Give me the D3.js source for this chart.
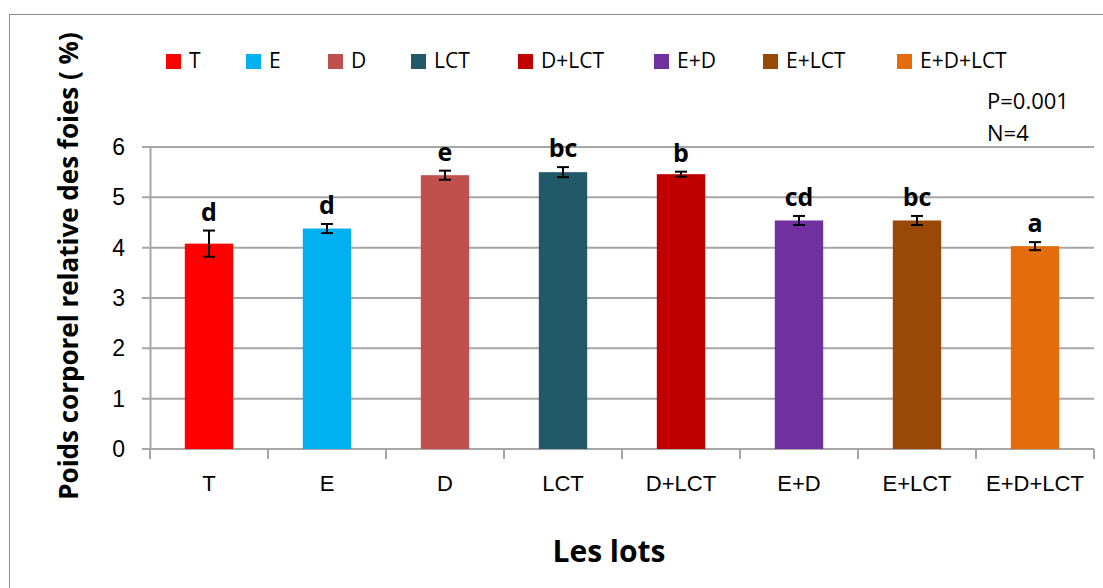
<!DOCTYPE html>
<html>
<head>
<meta charset="utf-8">
<script src="https://cdn.jsdelivr.net/npm/d3@7"></script>
<style>
	body { margin: 0; background: #fff; }
	svg { font-family: "Open Sans", "Noto Sans", sans-serif; }
</style>
</head>
<body>
<div id="chart"></div>
<script>
// Data
const lots = ['T', 'E', 'D', 'LCT', 'D+LCT', 'E+D', 'E+LCT', 'E+D+LCT'];
const moyennes = [4.08, 4.38, 5.44, 5.50, 5.46, 4.54, 4.54, 4.03];
const erreurs = [0.26, 0.09, 0.09, 0.10, 0.05, 0.09, 0.09, 0.08];
const lettres = ['d', 'd', 'e', 'bc', 'b', 'cd', 'bc', 'a'];
const couleurs = ['#FF0000', '#00B0F0', '#C0504D', '#215968', '#C00000', '#7030A0', '#984807', '#E46C0A'];
const yTicks = [0, 1, 2, 3, 4, 5, 6];

const width = 1103, height = 588;
const margin = {top: 147, right: 9, bottom: 139, left: 150};
const innerW = width - margin.left - margin.right;
const innerH = height - margin.top - margin.bottom;

const svg = d3.select('#chart').append('svg')
	.attr('width', width)
	.attr('height', height);

// outer frame
svg.append('rect')
	.attr('x', 9.5).attr('y', 14.5)
	.attr('width', width).attr('height', height)
	.attr('fill', 'none')
	.attr('stroke', '#8c8c8c')
	.attr('stroke-width', 1);

const g = svg.append('g')
	.attr('transform', `translate(${margin.left},${margin.top})`);

const x = d3.scaleBand()
	.domain(lots)
	.range([0, innerW])
	.paddingInner(0.59)
	.paddingOuter(0.295);

// category scale without padding for the tick marks between lots
const xCat = d3.scaleBand().domain(lots).range([0, innerW]);

const y = d3.scaleLinear()
	.domain([0, 6])
	.range([innerH, 0]);

// gridlines
g.append('g')
	.selectAll('line')
	.data(yTicks)
	.join('line')
	.attr('x1', -8)
	.attr('x2', innerW)
	.attr('y1', d => y(d))
	.attr('y2', d => y(d))
	.attr('stroke', '#a6a6a6')
	.attr('stroke-width', 2);

// y axis
const yAxis = d3.axisLeft(y).tickValues(yTicks).tickFormat(d3.format('d')).tickSize(0).tickPadding(25);
g.append('g')
	.attr('class', 'y-axis')
	.call(yAxis)
	.call(s => s.select('.domain').attr('stroke', '#a6a6a6').attr('stroke-width', 2))
	.call(s => s.selectAll('text').attr('font-size', 23).attr('fill', '#000'));

// x axis
const xAxis = d3.axisBottom(x).tickSize(0).tickPadding(26);
g.append('g')
	.attr('class', 'x-axis')
	.attr('transform', `translate(0,${innerH})`)
	.call(xAxis)
	.call(s => s.select('.domain').remove())
	.call(s => s.selectAll('text').attr('font-size', 22).attr('fill', '#000'));

g.append('g')
	.selectAll('line')
	.data(lots.map((d, i) => i).concat([lots.length]))
	.join('line')
	.attr('x1', i => i * xCat.step())
	.attr('x2', i => i * xCat.step())
	.attr('y1', innerH)
	.attr('y2', innerH + 10)
	.attr('stroke', '#a6a6a6')
	.attr('stroke-width', 2);

// bars
g.selectAll('.bar')
	.data(lots)
	.join('rect')
	.attr('class', 'bar')
	.attr('x', d => x(d))
	.attr('y', (d, i) => y(moyennes[i]))
	.attr('width', x.bandwidth())
	.attr('height', (d, i) => innerH - y(moyennes[i]))
	.attr('fill', (d, i) => couleurs[i]);

// error bars
const err = g.append('g').selectAll('g')
	.data(lots)
	.join('g')
	.attr('stroke', '#000')
	.attr('stroke-width', 2);

err.append('line')
	.attr('x1', d => x(d) + x.bandwidth() / 2)
	.attr('x2', d => x(d) + x.bandwidth() / 2)
	.attr('y1', (d, i) => y(moyennes[i] + erreurs[i]))
	.attr('y2', (d, i) => y(moyennes[i] - erreurs[i]));

[1, -1].forEach(sign => {
	err.append('line')
		.attr('x1', d => x(d) + x.bandwidth() / 2 - 6)
		.attr('x2', d => x(d) + x.bandwidth() / 2 + 6)
		.attr('y1', (d, i) => y(moyennes[i] + sign * erreurs[i]))
		.attr('y2', (d, i) => y(moyennes[i] + sign * erreurs[i]));
});

// significance letters
g.selectAll('.lettre')
	.data(lots)
	.join('text')
	.attr('class', 'lettre')
	.attr('x', d => x(d) + x.bandwidth() / 2)
	.attr('y', (d, i) => y(moyennes[i] + erreurs[i]) - 10)
	.attr('text-anchor', 'middle')
	.attr('font-size', 25)
	.attr('font-weight', 'bold')
	.text((d, i) => lettres[i]);

// legend
const legendX = [166, 246, 328, 411, 518, 654, 763, 897];
const legend = svg.append('g').selectAll('g')
	.data(lots)
	.join('g')
	.attr('transform', (d, i) => `translate(${legendX[i]},54)`);

legend.append('rect')
	.attr('width', 15).attr('height', 15)
	.attr('fill', (d, i) => couleurs[i]);

legend.append('text')
	.attr('x', 23)
	.attr('y', 14)
	.attr('font-size', 21)
	.text(d => d);

// stats annotation
svg.append('text').attr('x', 987).attr('y', 109).attr('font-size', 22).text('P=0.001');
svg.append('text').attr('x', 987).attr('y', 141).attr('font-size', 22).text('N=4');

// axis titles
svg.append('text')
	.attr('transform', 'translate(78,266) rotate(-90)')
	.attr('text-anchor', 'middle')
	.attr('font-size', 26)
	.attr('font-weight', 'bold')
	.text('Poids corporel relative des foies ( %)');

svg.append('text')
	.attr('x', 609)
	.attr('y', 562)
	.attr('text-anchor', 'middle')
	.attr('font-size', 30)
	.attr('font-weight', 'bold')
	.text('Les lots');
</script>
</body>
</html>
